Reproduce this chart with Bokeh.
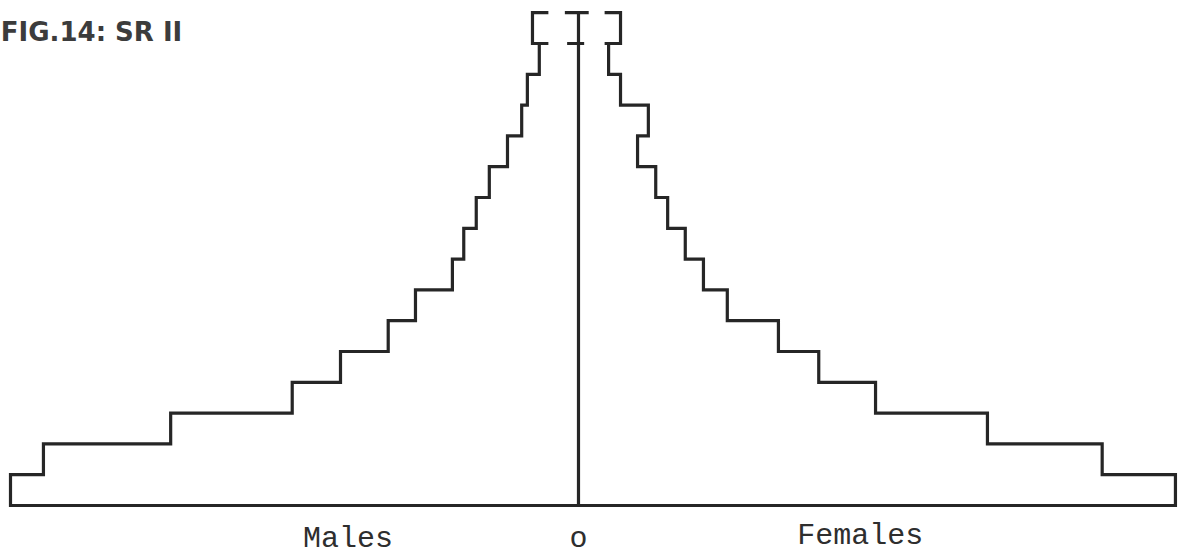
from bokeh.plotting import figure
from bokeh.models import Range1d
from bokeh.core.properties import value
from bokeh.embed import file_html
from bokeh.resources import INLINE

# Five-year age groups 0-4 ... 70-74, plus an open group 75+
age_lower = [0, 5, 10, 15, 20, 25, 30, 35, 40, 45, 50, 55, 60, 65, 70]
band = 5
males = [10.0, 9.42, 7.18, 5.04, 4.19, 3.35, 2.87, 2.22, 2.02, 1.80, 1.57, 1.25, 1.00, 0.90, 0.69]
females = [10.51, 9.22, 7.20, 5.23, 4.23, 3.52, 2.62, 2.20, 1.88, 1.57, 1.36, 1.04, 1.23, 0.74, 0.53]
open_group = (75, 80)
males_open = 0.81
females_open = 0.74

INK = "#262626"
LW = 3.2

p = figure(width=1185, height=557, output_backend="svg", toolbar_location=None,
           x_range=Range1d(-10.176, 10.687), y_range=Range1d(-8.44, 81.98),
           min_border=0, outline_line_color=None, background_fill_color="white",
           border_fill_color="white")
p.axis.visible = False
p.grid.visible = False

# One continuous outline: male steps down the left, along the base, female steps up the right
xs, ys = [], []
n = len(age_lower)
for i in range(n - 1, -1, -1):
    top = age_lower[i] + band
    bot = age_lower[i]
    xs += [-males[i], -males[i]]
    ys += [top, bot]
for i in range(n):
    top = age_lower[i] + band
    bot = age_lower[i]
    xs += [females[i], females[i]]
    ys += [bot, top]
p.line(xs, ys, line_color=INK, line_width=LW, line_join="miter")

# Open-ended top group drawn as brackets
arm = 0.28
lo, hi = open_group
p.line([-males_open + arm, -males_open, -males_open, -males_open + arm], [hi, hi, lo, lo],
       line_color=INK, line_width=LW, line_join="miter")
p.line([females_open - arm, females_open, females_open, females_open - arm], [hi, hi, lo, lo],
       line_color=INK, line_width=LW, line_join="miter")

# Central axis with serifs at the top
p.line([0, 0], [0, hi], line_color=INK, line_width=LW)
p.line([-0.24, 0.18], [hi, hi], line_color=INK, line_width=LW)
p.line([-0.2, 0.1], [lo, lo], line_color=INK, line_width=LW)

p.text(x=[-10.17], y=[76.8], text=["FIG.14: SR II"], text_font=value("DejaVu Sans"),
       text_font_style="bold", text_font_size="26px", text_color="#3c3c3c",
       text_align="left", text_baseline="alphabetic")
p.text(x=[-4.06, 0.0], y=[-5.36, -5.36], text=["Males", "o"], text_font=value("Liberation Mono"),
       text_font_size="30px", text_color="#2e2e2e", text_align="center",
       text_baseline="alphabetic")
p.text(x=[4.96], y=[-5.03], text=["Females"], text_font=value("Liberation Mono"),
       text_font_size="30px", text_color="#2e2e2e", text_align="center",
       text_baseline="alphabetic")

open("out.html", "w").write(file_html(p, INLINE))
